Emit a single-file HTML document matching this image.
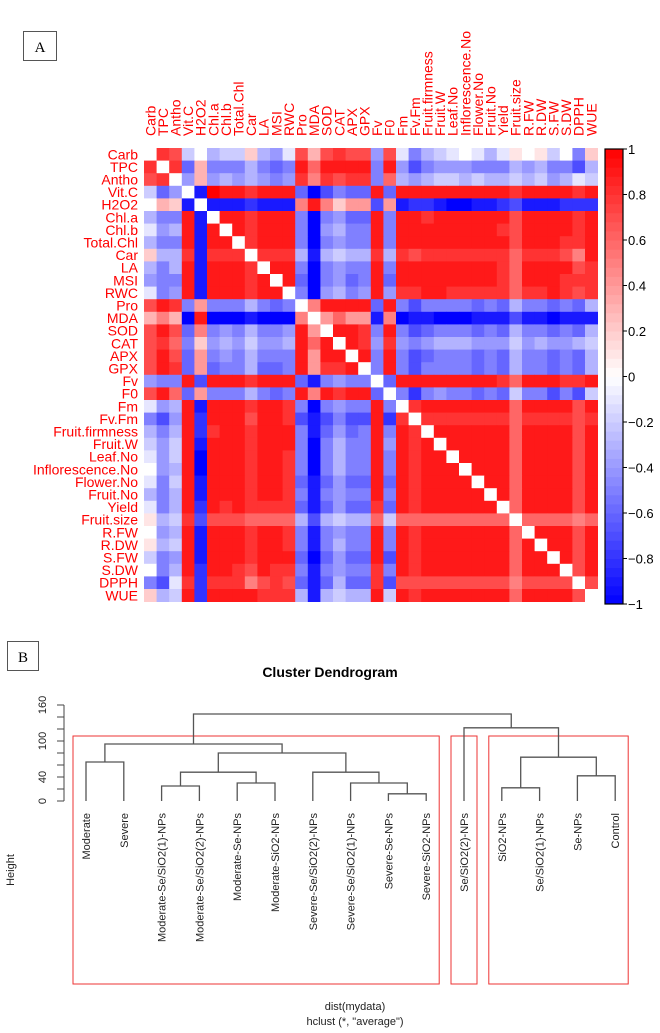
<!DOCTYPE html>
<html><head><meta charset="utf-8"><style>
html,body{margin:0;padding:0;background:#fff;}
svg{display:block;font-family:"Liberation Sans",Arial,sans-serif;}
</style></head><body>
<svg id="s" width="660" height="1033" viewBox="0 0 660 1033" xmlns="http://www.w3.org/2000/svg">
<g><rect x="23.5" y="31.5" width="33" height="29" fill="#fff" stroke="#555"/><text x="40" y="52" text-anchor="middle" font-family="Liberation Serif,serif" font-size="15">A</text></g>
<g id="hm"></g>
<g id="cb"></g>
<g><rect x="7.5" y="641.5" width="31" height="29" fill="#fff" stroke="#555"/><text x="23" y="662" text-anchor="middle" font-family="Liberation Serif,serif" font-size="15">B</text></g>
<text x="330" y="677" text-anchor="middle" font-size="14" font-weight="bold">Cluster Dendrogram</text>
<g id="dg"></g>
<text transform="translate(14,870) rotate(-90)" text-anchor="middle" font-size="11" fill="#222">Height</text>
<text x="355" y="1010" text-anchor="middle" font-size="11" fill="#222">dist(mydata)</text>
<text x="355" y="1025" text-anchor="middle" font-size="11" fill="#222">hclust (*, "average")</text>
</svg>
<script>
const variables=["Carb","TPC","Antho","Vit.C","H2O2","Chl.a","Chl.b","Total.Chl","Car","LA","MSI","RWC","Pro","MDA","SOD","CAT","APX","GPX","Fv","F0","Fm","Fv.Fm","Fruit.firmness","Fruit.W","Leaf.No","Inflorescence.No","Flower.No","Fruit.No","Yield","Fruit.size","R.FW","R.DW","S.FW","S.DW","DPPH","WUE"];
// code: 'A'=-1.0 ... 'K'=0 ... 'U'=+1.0 (step 0.1)
const corrRows=[
"KSRIKHIIMHGJRNRSRRGRJFHIJKJHJLKLIKFM",
"SKSENFFFHFEFTQTTTTFTGDFGGGFFFHGHFFDH",
"RSKGNGHGHGFGSPSRSSFQHGHIIHIHHIHIGHJI",
"IEGKBUTTSTTTEADFEETETTTTTTTTTSTTTTST",
"KNMBKBBBCBBBPTPMOODOBCCBAABBCDBBBCCC",
"HFFTBKTTSTTTFAFGEETFTTSTTTTTTRTTTTST",
"JGHTBTKTSTTTFAGHFFTFTTTTTTTTSRTTTTST",
"HFFTBTTKSTTTFAFGFFTFTTTTTTTTTRTTTSST",
"MHHSBSSSKSSSHBHIHHSHSRSSSSSSSQSSSRPT",
"HFHTBTTTSKTTFAFGFFTFTTTTTTTTSQTTTTRS",
"GFFTBTTTSTKTEAFGEFTETTTTTTTTSQTTTSSS",
"JFGTBTTTSTTKFAGHFGTGSSTTSSSSSQSSTSRS",
"RTSFOFFFHFEFKPTTTTETFDFFFFEFEHFFEFEH",
"NPNATAAABAAAPKOQOOBPABBAAABBBDBBABBB",
"RTREPFGFHFFGTOKTTSFTFDEFFFEFEHFFEFEH",
"RSQFMGHGIGGHTQTKTSGSGFGHHHGGGIGHGGHI",
"RTREOFGFHFFFTOTTKTFTFDEFFFEFEHFFEFEH",
"RTSEOEFFHEEFTOSSTKFTFDFFFFEFEHFFEFEH",
"GFFTDTTTSTTTEBFGFFKETTTTTTTTSQTTTSST",
"RTQEOFFFHFEFTPTSTTEKFCFGFFEFEIFFDFDI",
"JGHTBTTTSTTSFAFGFFTFKSTTTTTTTQTTTTRT",
"FDGTCTTTRTTSDBDFDDTCSKSSSSSSSQSSSSRS",
"HFHTCSTTSTTTFBEGEFTFTSKTTTTTTQTTTTRT",
"IGITBTTTSTTTFAFHFFTGTSTKTTTTTQTTTTRT",
"JGITATTTSTTSFAFHFFTFTSTTKTTTTQTTTTRT",
"KGHTATTTSTTSFAFHFFTFTSTTTKTTTQTTTTRT",
"JFITBTTTSTTSEBEGEETETSTTTTKTTQTTTTRT",
"HFHTBTTTSTTSFBFGFFTFTSTTTTTKTQTTTTRT",
"JFHTCTSTSSSSEBEGEESETSTTTTTTKQTTTTRT",
"LHISDRRRQQQQHDHIHHQIQQQQQQQQQKQQQQPQ",
"KGHTBTTTSTTSFBFGFFTFTSTTTTTTTQKTTTRT",
"LHITBTTTSTTSFBFHFFTFTSTTTTTTTQTKTTRT",
"IFGTBTTTSTTTEAEGEETDTSTTTTTTTQTTKTRT",
"KFHTCTTSRTSSFBFGFFSFTSTTTTTTTQTTTKRT",
"FDJSCSSSPRSREBEHEESDRRRRRRRRRPRRRRKR",
"MHITCTTTTSSSHBHIHHTITSTTTTTTTQTTTTRK"];
const legendTicks=[1,0.8,0.6,0.4,0.2,0,-0.2,-0.4,-0.6,-0.8,-1];

const treatments=["Moderate","Severe","Moderate-Se/SiO2(1)-NPs","Moderate-Se/SiO2(2)-NPs","Moderate-Se-NPs","Moderate-SiO2-NPs","Severe-Se/SiO2(2)-NPs","Severe-Se/SiO2(1)-NPs","Severe-Se-NPs","Severe-SiO2-NPs","Se/SiO2(2)-NPs","SiO2-NPs","Se/SiO2(1)-NPs","Se-NPs","Control"];
// merges: [left, right, height]; negative = leaf index (-(i+1)), positive = merge number (1-based)
const merges=[
[-9,-10,12],[-3,-4,25],[-5,-6,30],[-8,1,30],[-12,-13,22],[-14,-15,42],
[2,3,48],[-7,4,48],[-1,-2,65],[5,6,73],[7,8,80],[9,11,95],[-11,10,122],[12,13,145]];
const heightTicks=[0,20,40,60,80,100,120,140,160];
const heightLabels=[0,40,100,160];
const clusterBoxes=[[0,9],[10,10],[11,14]];

const NS="http://www.w3.org/2000/svg";
function el(tag,attrs,parent){const e=document.createElementNS(NS,tag);for(const k in attrs)e.setAttribute(k,attrs[k]);parent.appendChild(e);return e;}
function val(c){return -1+(c.charCodeAt(0)-65)*0.1;}
function col(v){v=Math.max(-1,Math.min(1,v));
 if(v>=0){const g=Math.round(255*(1-v));return `rgb(255,${g},${g})`;}
 const g=Math.round(255*(1+v));return `rgb(${g},${g},255)`;}

// heatmap
const hm=document.getElementById('hm');
const X0=144,Y0=148,N=variables.length,CS=453.6/N;
const cx=i=>X0+i*CS, cy=i=>Y0+i*CS;
for(let i=0;i<N;i++){for(let j=0;j<N;j++){
 const v=i===j?0:val(corrRows[i][j]);
 const r=el('rect',{x:cx(j).toFixed(2),y:cy(i).toFixed(2),width:(CS+0.4).toFixed(2),height:(CS+0.4).toFixed(2),fill:col(v)},hm);
 
 
}}
variables.forEach((n,i)=>{
 const t=el('text',{x:138,y:(cy(i)+CS/2+5).toFixed(1),'text-anchor':'end','font-size':14,fill:'#f00'},hm);
 t.textContent=n;
 
 
 const x=cx(i)+CS/2+5;
 const c=el('text',{transform:`translate(${x.toFixed(1)},136) rotate(-90)`,'font-size':14,fill:'#f00'},hm);
 c.textContent=n;
 
 
});

// color legend
const cb=document.getElementById('cb');
const BX=605,BW=18,BT=149,BB=604;
const by=v=>BB-(v+1)/2*(BB-BT);
for(let k=0;k<50;k++){const v0=-1+k*0.04;
 const r=el('rect',{x:BX,y:by(v0+0.04).toFixed(2),width:BW,height:((BB-BT)/50+0.5).toFixed(2),fill:col(v0+0.02)},cb);
 
 }
el('rect',{x:BX,y:BT,width:BW,height:BB-BT,fill:'none',stroke:'#000','stroke-width':1.2},cb);
legendTicks.forEach(v=>{
 el('line',{x1:BX+BW,x2:BX+BW+4,y1:by(v),y2:by(v),stroke:'#000'},cb);
 const t=el('text',{x:628,y:(by(v)+5).toFixed(1),'font-size':13,fill:'#000'},cb);
 t.textContent=(v<0?'\u2212':'')+String(Math.abs(v));
 
 
});

// dendrogram
const dg=document.getElementById('dg');
const LX0=86,LDX=37.8,HY0=801,HPX=0.6;
const lx=i=>LX0+i*LDX, hy=h=>HY0-h*HPX;
// axis
el('line',{x1:64,x2:64,y1:hy(0),y2:hy(160),stroke:'#444'},dg);
heightTicks.forEach(h=>{el('line',{x1:57,x2:64,y1:hy(h),y2:hy(h),stroke:'#444'},dg);});
heightLabels.forEach(h=>{const t=el('text',{transform:`translate(46,${hy(h)}) rotate(-90)`,'text-anchor':'middle','font-size':11,fill:'#222'},dg);
 t.textContent=h;
 
 });
// cluster boxes
clusterBoxes.forEach(([a,b])=>{
 const r=el('rect',{x:lx(a)-13,y:736,width:lx(b)-lx(a)+26,height:248,fill:'none',stroke:'#e33','stroke-width':1},dg);
 
 });
const pos=[];
function nodeInfo(k){ if(k<0)return {x:lx(-k-1),h:0}; return pos[k-1]; }
merges.forEach(([a,b,h],m)=>{
 const A=nodeInfo(a),B=nodeInfo(b);
 const p=el('path',{d:`M${A.x},${hy(A.h)}V${hy(h)}H${B.x}V${hy(B.h)}`,fill:'none',stroke:'#555','stroke-width':1.3},dg);
 
 
 pos.push({x:(A.x+B.x)/2,h:h});
});
treatments.forEach((n,i)=>{
 const t=el('text',{transform:`translate(${lx(i)+4},813) rotate(-90)`,'text-anchor':'end','font-size':11,fill:'#222'},dg);
 t.textContent=n;
 
 
});
</script>
</body></html>
